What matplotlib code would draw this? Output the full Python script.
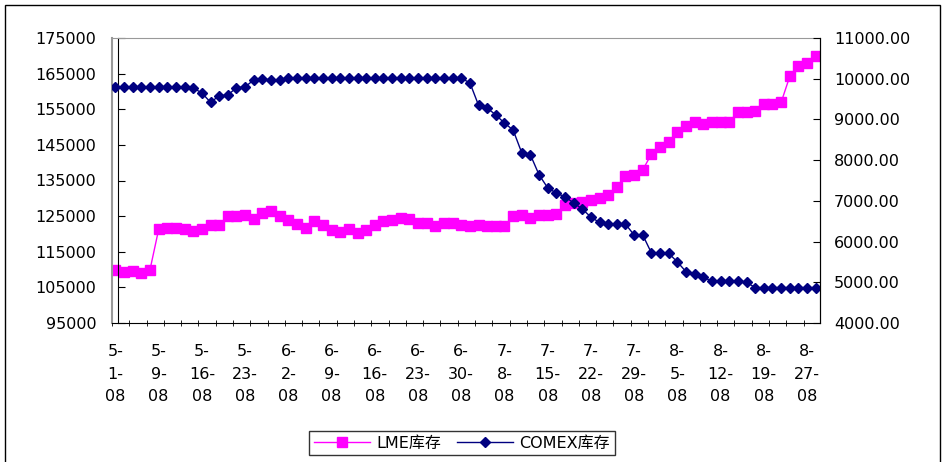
import numpy as np
import matplotlib.pyplot as plt
from matplotlib.patches import Rectangle

plt.rcParams['font.family'] = ['DejaVu Sans', 'Noto Sans CJK SC']

# DATOS ---------------------------------------------------------------
# etiquetas del eje x (una cada 5 dias habiles)
date_labels = ["5-\n1-\n08", "5-\n9-\n08", "5-\n16-\n08", "5-\n23-\n08",
               "6-\n2-\n08", "6-\n9-\n08", "6-\n16-\n08", "6-\n23-\n08",
               "6-\n30-\n08", "7-\n8-\n08", "7-\n15-\n08", "7-\n22-\n08",
               "7-\n29-\n08", "8-\n5-\n08", "8-\n12-\n08", "8-\n19-\n08",
               "8-\n27-\n08"]

# LME (eje izquierdo, toneladas)
lme = [110000, 109300, 109700, 109000, 110000, 121300, 121800, 121800, 121500, 120800,
       121300, 122500, 122500, 124900, 124900, 125300, 124300, 126000, 126500, 124900,
       123900, 122900, 121800, 123500, 122400, 121100, 120500, 121300, 120400, 121100,
       122500, 123500, 123900, 124600, 124100, 123000, 123000, 122300, 123000, 123000,
       122500, 122200, 122500, 122300, 122300, 122300, 124900, 125300, 124400, 125300,
       125300, 125600, 128000, 128800, 129100, 129600, 130100, 131000, 133300, 136300,
       136600, 138000, 142400, 144400, 145900, 148700, 150400, 151300, 150900, 151400,
       151400, 151500, 154100, 154200, 154400, 156500, 156500, 156900, 164200, 167200,
       168000, 170000]

# COMEX (eje derecho)
comex = [9800, 9800, 9800, 9800, 9800, 9800, 9800, 9800, 9800, 9770,
         9650, 9420, 9580, 9600, 9780, 9800, 9970, 9990, 9970, 9980,
         10020, 10020, 10020, 10020, 10020, 10020, 10020, 10020, 10020, 10020,
         10020, 10020, 10020, 10020, 10020, 10020, 10020, 10020, 10020, 10020,
         10010, 9900, 9350, 9280, 9110, 8910, 8740, 8180, 8130, 7640,
         7320, 7190, 7100, 6950, 6800, 6600, 6470, 6420, 6430, 6430,
         6160, 6160, 5720, 5720, 5710, 5500, 5260, 5200, 5130, 5020,
         5020, 5020, 5020, 5000, 4870, 4870, 4870, 4870, 4870, 4870,
         4870, 4870]

# GRAFICO -------------------------------------------------------------
fig = plt.figure(figsize=(9.45, 4.62), dpi=100)
fig.patches.append(Rectangle((5 / 945, -0.1), 935 / 945, 1.1 - 5 / 462,
                             transform=fig.transFigure, fill=False,
                             edgecolor='black', linewidth=1))

ax = fig.add_axes([112 / 945, 1 - 323 / 462, 708 / 945, 285 / 462])
ax2 = ax.twinx()

x = np.arange(len(lme))
l1, = ax.plot(x, lme, color='#FF00FF', marker='s', markersize=7, linewidth=1,
              label='LME库存')
l2, = ax2.plot(x, comex, color='#000080', marker='D', markersize=5.5, linewidth=1,
               label='COMEX库存')

ax.set_xlim(-0.35, 81.5)
ax.set_ylim(95000, 175000)
ax2.set_ylim(4000, 11000)

ax.set_yticks(np.arange(95000, 175001, 10000))
ax2.set_yticks(np.arange(4000, 11001, 1000))
ax2.set_yticklabels(["%.2f" % v for v in np.arange(4000, 11001, 1000)])

ax.set_xticks(np.arange(0, len(lme), 5))
ax.set_xticklabels(date_labels, linespacing=1.65, ha='center')
ax.set_xticks(np.arange(-0.4, 81.6, 2), minor=True)

ax.tick_params(axis='x', which='major', length=0, pad=15, labelsize=11.5)
ax.tick_params(axis='x', which='minor', direction='inout', length=5)
ax.tick_params(axis='y', direction='in', length=5, pad=16, labelsize=11.5)
ax2.tick_params(axis='y', direction='in', length=5, pad=10, labelsize=11.5)

# ejes: borde gris del area, eje vertical negro
ax.spines['left'].set_position(('data', 0.35))
ax.spines['top'].set_color('#999999')
ax.spines['bottom'].set_color('black')
ax.axvline(-0.35, color='#999999', linewidth=1.5, clip_on=False)
for s in ['top', 'left', 'bottom']:
    ax2.spines[s].set_visible(False)
ax2.spines['right'].set_color('black')

fig.legend(handles=[l1, l2], loc='center', bbox_to_anchor=(462 / 945, 1 - 443 / 462),
           ncol=2, frameon=True, fancybox=False, edgecolor='black', fontsize=11.5,
           handlelength=3.5, columnspacing=1.0, borderpad=0.3, handletextpad=0.4)

fig.savefig("out.png", dpi=100)
